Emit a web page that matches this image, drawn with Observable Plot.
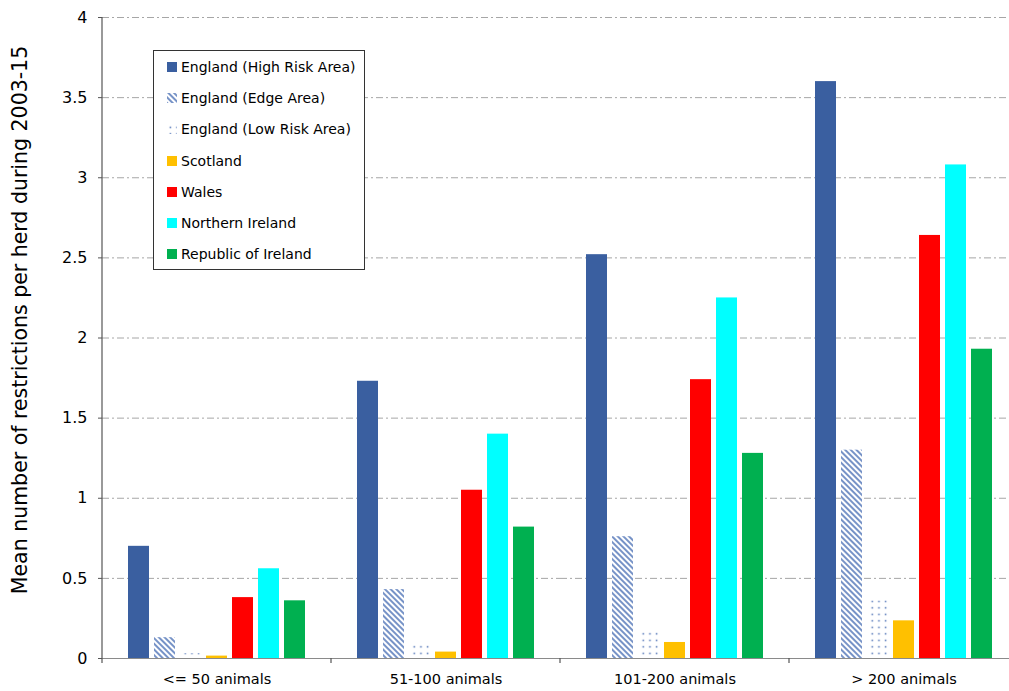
<!DOCTYPE html>
<html>
<head>
<meta charset="utf-8">
<script src="https://cdn.jsdelivr.net/npm/d3@7"></script>
<script src="https://cdn.jsdelivr.net/npm/@observablehq/plot@0.6"></script>
<style>
  html, body { margin: 0; padding: 0; background: #fff; overflow: hidden; }
  #wrap { position: relative; width: 1009px; height: 691px; overflow: hidden; font-family: "DejaVu Sans", sans-serif; }
  #chart svg { max-width: none !important; }
  #ylabel { position: absolute; left: 20px; top: 320px; transform: translate(-50%, -50%) rotate(-90deg); white-space: nowrap; font-size: 20.5px; color: #000; }
  #legend { position: absolute; left: 153px; top: 50px; width: 212px; height: 220px; border: 1.5px solid #333; background: #fff; box-sizing: border-box; }
  .item { position: absolute; left: 13px; height: 20px; display: flex; align-items: center; font-size: 14px; color: #000; white-space: nowrap; }
  .item svg { margin-right: 4px; }
</style>
</head>
<body>
<svg width="0" height="0" style="position:absolute">
  <defs>
    <pattern id="edgeHatch" patternUnits="userSpaceOnUse" width="4" height="4" patternTransform="rotate(-45)">
      <rect width="4" height="4" fill="#ffffff"/>
      <line x1="1" y1="0" x2="1" y2="4" stroke="#4a6fb5" stroke-width="1.5"/>
    </pattern>
    <pattern id="lowDots" patternUnits="userSpaceOnUse" width="6.7" height="6.5">
      <rect width="6.7" height="6.5" fill="#ffffff"/>
      <rect x="2.6" y="2.6" width="1.5" height="1.5" fill="#4a6fb5"/>
    </pattern>
  </defs>
</svg>
<div id="wrap">
  <div id="chart"></div>
  <div id="ylabel"></div>
  <div id="legend"></div>
</div>
<script>
const groups = ["<= 50 animals", "51-100 animals", "101-200 animals", "> 200 animals"];
const series = ["England (High Risk Area)", "England (Edge Area)", "England (Low Risk Area)", "Scotland", "Wales", "Northern Ireland", "Republic of Ireland"];
const englandHighRisk = [0.70, 1.73, 2.52, 3.60];
const englandEdge     = [0.13, 0.43, 0.76, 1.30];
const englandLowRisk  = [0.03, 0.10, 0.17, 0.36];
const scotland        = [0.015, 0.04, 0.10, 0.235];
const wales           = [0.38, 1.05, 1.74, 2.64];
const northernIreland = [0.56, 1.40, 2.25, 3.08];
const republicIreland = [0.36, 0.82, 1.28, 1.93];
const yTicks = [0, 0.5, 1, 1.5, 2, 2.5, 3, 3.5, 4];
const yTitle = "Mean number of restrictions per herd during 2003-15";

const seriesValues = [englandHighRisk, englandEdge, englandLowRisk, scotland, wales, northernIreland, republicIreland];
const colors = ["#3A5FA0", "url(#edgeHatch)", "url(#lowDots)", "#FFC000", "#FF0000", "#00FFFF", "#00B050"];

const data = [];
groups.forEach((g, gi) => series.forEach((s, si) => data.push({group: g, series: s, value: seriesValues[si][gi]})));

const plot = Plot.plot({
  width: 1020,
  height: 691,
  marginLeft: 101,
  marginRight: 1,
  marginTop: 17,
  marginBottom: 33,
  style: {fontFamily: "DejaVu Sans, sans-serif", fontSize: "16px", color: "#000", background: "transparent", overflow: "visible", maxWidth: "none"},
  fx: {domain: groups, padding: 0, label: null},
  x: {domain: series, paddingInner: 0.2, paddingOuter: 0.85, axis: null},
  y: {domain: [0, 4], label: null},
  color: {domain: series, range: colors},
  marks: [
    Plot.gridY(yTicks, {stroke: "#a6a6a6", strokeOpacity: 1, strokeWidth: 1, strokeDasharray: "7 3 2 3"}),
    Plot.barY(data, {fx: "group", x: "series", y: "value", fill: "series"}),
    Plot.ruleY([0], {stroke: "#8a8a8a", strokeWidth: 1.2}),
    Plot.axisY(yTicks, {tickSize: 4, tickPadding: 11, label: null, fontSize: 16, stroke: "#555", tickFormat: d => String(d)}),
    Plot.axisFx({anchor: "bottom", tickSize: 0, tickPadding: 15, label: null, fontSize: 14.5})
  ]
});
document.getElementById("chart").appendChild(plot);

// axis line and group boundary ticks from the plot's own scales
const fx = plot.scale("fx");
const ys = plot.scale("y");
const svg = d3.select(plot);
const y0 = ys.apply(0), yTop = ys.apply(4);
const bounds = groups.map(g => fx.apply(g));
bounds.push(fx.apply(groups[groups.length - 1]) + fx.bandwidth);
svg.append("line").attr("x1", bounds[0]).attr("x2", bounds[0]).attr("y1", yTop).attr("y2", y0 + 5)
  .attr("stroke", "#555").attr("stroke-width", 1.2);
bounds.slice(1).forEach(b => {
  svg.append("line").attr("x1", b).attr("x2", b).attr("y1", y0).attr("y2", y0 + 5)
    .attr("stroke", "#555").attr("stroke-width", 1.2);
});

document.getElementById("ylabel").textContent = yTitle;

// legend
const legend = document.getElementById("legend");
series.forEach((s, i) => {
  const item = document.createElement("div");
  item.className = "item";
  item.style.top = (6 + i * 31.2) + "px";
  item.innerHTML = `<svg width="10" height="10"><rect width="10" height="10" fill="${colors[i]}"/></svg><span>${s}</span>`;
  legend.appendChild(item);
});
</script>
</body>
</html>
